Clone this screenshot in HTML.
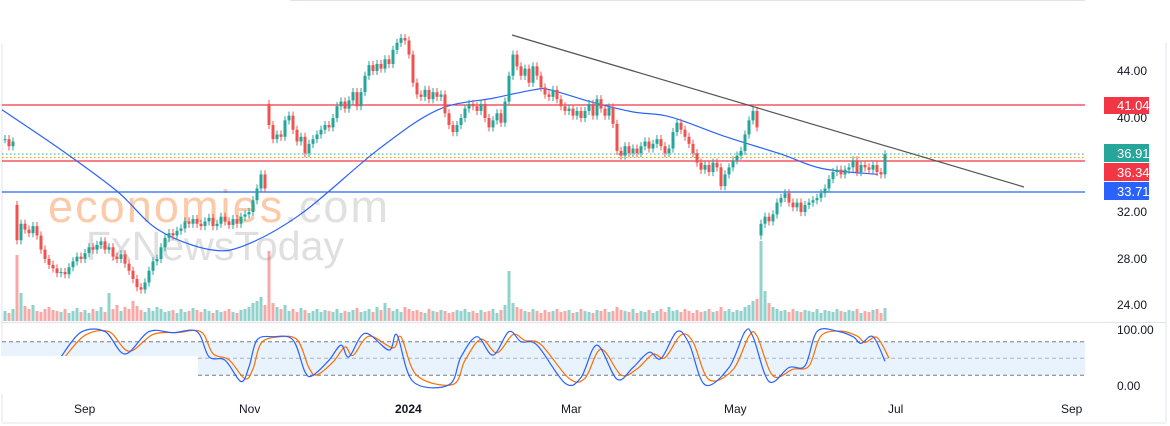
<!DOCTYPE html>
<html><head><meta charset="utf-8">
<style>
html,body{margin:0;padding:0;background:#fff;}
svg{display:block;font-family:"Liberation Sans",sans-serif;}
</style></head>
<body>
<svg id="chart" width="1170" height="426" viewBox="0 0 1170 426" xmlns="http://www.w3.org/2000/svg">
  <line x1="290" y1="0.5" x2="1085" y2="0.5" stroke="#e0e3eb"/>
  <line x1="2" y1="44" x2="2" y2="422" stroke="#e0e3eb"/>
  <line x1="1166" y1="43" x2="1166" y2="422" stroke="#e0e3eb"/>
  <line x1="2" y1="322.5" x2="1166" y2="322.5" stroke="#e0e3eb"/>
  <line x1="2" y1="423" x2="1166" y2="423" stroke="#e0e3eb"/>
  <g>
    <text x="48" y="222" font-size="45" fill="#fbb98c" opacity="0.75" textLength="340">economies<tspan fill="#d6d6d6">.com</tspan></text>
    <text x="86" y="260" font-size="41" fill="#d8d8d8" opacity="0.8" textLength="258">FxNewsToday</text>
  </g>
  <g id="stoch-bg">
    <rect x="2" y="341.7" width="1083" height="33.6" fill="#e8f3fd"/>
    <line x1="2" y1="341.7" x2="1085" y2="341.7" stroke="#787b86" stroke-dasharray="4,3"/>
    <line x1="2" y1="358.3" x2="1085" y2="358.3" stroke="#9598a1" stroke-dasharray="4,3" opacity="0.7"/>
    <line x1="2" y1="375.3" x2="1085" y2="375.3" stroke="#787b86" stroke-dasharray="4,3"/>
  </g>
  <g id="volume"></g>
  <g id="levels">
    <line x1="2" y1="105" x2="1085" y2="105" stroke="#f23645" stroke-width="1.2"/>
    <line x1="2" y1="154" x2="1085" y2="154" stroke="#26a69a" stroke-dasharray="1.5,2.5"/>
    <line x1="2" y1="157.5" x2="1085" y2="157.5" stroke="#ff9800" stroke-dasharray="1.5,2.5"/>
    <line x1="2" y1="161" x2="1085" y2="161" stroke="#f23645" stroke-width="1.2"/>
    <line x1="2" y1="192" x2="1085" y2="192" stroke="#2962ff" stroke-width="1.2"/>
  </g>
  <path id="ma" fill="none" stroke="#2962ff" stroke-width="1.2"/>
  <g id="candles"></g>
  <line x1="512" y1="35" x2="1024" y2="187" stroke="#555" stroke-width="1.2"/>
  <path id="stochD" fill="none" stroke="#ff6d00" stroke-width="1.2"/>
  <path id="stochK" fill="none" stroke="#2962ff" stroke-width="1.2"/>
  <rect x="0" y="356" width="198" height="38" fill="#fff"/>
  <g font-size="12" fill="#131722">
    <text x="1117" y="75">44.00</text>
    <text x="1117" y="122">40.00</text>
    <text x="1117" y="216">32.00</text>
    <text x="1117" y="263">28.00</text>
    <text x="1117" y="309">24.00</text>
    <text x="1117" y="334">100.00</text>
    <text x="1117" y="390">0.00</text>
  </g>
  <g font-size="13" fill="#fff">
    <rect x="1104" y="97" width="45" height="17" fill="#f23645"/><text x="1117" y="110">41.04</text>
    <rect x="1104" y="144" width="45" height="18" fill="#26a69a"/><text x="1117" y="158">36.91</text>
    <rect x="1104" y="163" width="45" height="18" fill="#f23645"/><text x="1117" y="177">36.34</text>
    <rect x="1104" y="182" width="45" height="18" fill="#2962ff"/><text x="1117" y="196">33.71</text>
  </g>
  <g font-size="12" fill="#131722">
    <text x="74" y="413">Sep</text>
    <text x="239" y="413">Nov</text>
    <text x="395" y="413" font-weight="bold">2024</text>
    <text x="561" y="413">Mar</text>
    <text x="724" y="413">May</text>
    <text x="888" y="413">Jul</text>
    <text x="1061" y="413">Sep</text>
  </g>
</svg>
<script>
const closes = [38.2,37.6,38.0,29.6,31.0,30.5,30.2,30.8,30.0,28.8,28.0,27.5,27.2,26.8,26.9,26.7,27.3,27.8,28.2,28.0,28.5,
29.0,28.8,29.2,29.5,28.8,29.0,28.2,28.0,28.4,27.6,27.0,26.3,25.6,25.4,26.0,27.0,27.8,28.0,29.0,29.8,30.2,30.0,30.4,30.6,
31.2,31.0,31.4,31.0,30.8,31.2,31.5,30.8,31.0,31.6,31.2,30.9,31.4,31.0,31.6,31.8,32.0,33.0,34.0,35.2,34.0,39.4,
38.2,38.6,38.4,39.8,40.2,39.0,38.0,38.4,37.0,37.8,38.2,38.6,39.0,39.4,39.2,40.0,41.0,41.4,40.8,41.5,42.2,41.0,
42.2,43.6,44.5,44.0,44.6,44.2,45.0,44.6,45.8,46.4,46.8,46.6,45.4,43.0,42.0,41.8,42.4,41.6,42.2,41.8,42.0,40.4,39.4,
38.8,39.4,40.0,40.8,41.2,41.0,40.6,41.2,40.0,39.2,39.8,40.4,39.6,41.4,43.6,45.4,44.4,43.6,44.2,43.0,44.4,43.6,
42.6,42.0,41.8,42.4,41.6,41.0,40.6,40.8,40.2,40.6,40.0,40.6,41.2,40.2,41.6,40.8,40.2,40.9,39.5,
37.2,36.8,37.6,37.0,37.4,37.0,37.6,38.0,37.4,37.8,38.2,37.6,37.0,37.4,38.8,39.6,39.0,38.4,37.8,
37.0,36.2,35.6,36.0,35.4,36.2,35.8,34.2,35.2,35.8,36.4,36.8,37.2,38.6,39.8,40.6,39.2,31.0,
31.6,31.2,31.8,32.8,33.2,33.6,32.8,32.4,32.8,32.0,32.6,32.8,33.0,33.2,33.6,34.0,34.8,35.4,35.6,35.2,35.6,
35.8,36.4,35.4,36.0,35.8,35.6,36.0,35.4,35.2,36.91];
const gapOpenIndex = [3, 66, 189];
const gapOpenValue = [32.6, 41.2, 30.0];
const volumes = [10,8,12,66,28,15,12,16,10,9, 12,14,11,10,9,12,8,10,13,9, 11,8,12,10,14,9,28,12,16,10,
14,12,20,15,11,9,13,10,14,12, 9,10,11,8,12,9,10,13,11,9, 12,10,8,11,9,10,12,9,8,11,
12,14,18,20,24,16,70,18,14,12, 16,10,12,9,13,11,8,10,12,9, 11,10,9,12,8,10,9,11,13,9,
10,12,9,14,11,18,13,10,12,9, 14,12,10,11,9,8,12,10,9,11, 10,8,9,11,10,12,9,10,8,11,
9,10,12,8,11,16,50,18,14,12, 10,9,12,10,8,11,9,10,12,9, 10,11,8,9,12,10,9,8,11,10,
12,9,10,14,11,10,9,12,8,10, 9,11,8,10,12,9,14,10,11,9, 12,10,8,11,9,10,12,9,10,14,
10,12,9,11,10,14,16,20,22,80, 30,18,14,12,10,11,9,12,10,9, 11,10,9,12,8,11,10,9,12,10,
9,11,10,12,8,10,9,11,12,8, 13];
const maIndex = [0,16,29,39,52,61,75,94,109,123,133,137,148,158,167,181,195,205,219];
const maValues = [40.7,37.0,33.7,30.5,28.8,29.2,31.9,37.3,40.7,41.7,42.4,42.4,41.3,40.5,40.1,38.4,36.9,35.7,35.2];
// stochastic %K (candle index, value)
const stochIndex = [14,19,25,30,36,42,48,51,55,59,61,63,67,72,75,77,81,84,86,90,96,98,102,111,114,118,122,126,129,133,140,144,148,153,157,161,164,168,171,175,181,185,187,191,196,200,203,208,212,214,217,220];
const stochK = [53,97,98,58,98,96,98,53,47,9,35,83,89,83,26,20,47,74,53,95,65,92,9,3,53,89,56,98,80,74,6,16,74,13,34,61,50,98,77,3,34,98,89,9,34,37,98,99,89,77,89,45];

const NS = "http://www.w3.org/2000/svg";
const xOf = i => 5 + i * 4;
const yP = p => 71 + (44 - p) * 11.75;
const yS = v => 386.5 - v * 0.56;
const GREEN = "#26a69a", RED = "#ef5350";

const opens = closes.map((c, i) => i === 0 ? c : closes[i - 1]);
gapOpenIndex.forEach((gi, k) => { opens[gi] = gapOpenValue[k]; });
const highs = closes.map((c, i) => Math.max(c, opens[i]) + 0.35);
const lows = closes.map((c, i) => Math.min(c, opens[i]) - 0.35);

const cg = document.getElementById('candles');
const vg = document.getElementById('volume');
closes.forEach((c, i) => {
  const o = opens[i], up = c >= o, col = up ? GREEN : RED, x = xOf(i);
  const w = document.createElementNS(NS, 'line');
  
  
  w.setAttribute('x1', x); w.setAttribute('x2', x);
  w.setAttribute('y1', yP(highs[i])); w.setAttribute('y2', yP(lows[i]));
  w.setAttribute('stroke', col);
  cg.appendChild(w);
  const r = document.createElementNS(NS, 'rect');
  
  
  const top = yP(Math.max(o, c)), bot = yP(Math.min(o, c));
  r.setAttribute('x', x - 1.5); r.setAttribute('width', 3);
  r.setAttribute('y', top); r.setAttribute('height', Math.max(1, bot - top));
  r.setAttribute('fill', col);
  cg.appendChild(r);
  const v = document.createElementNS(NS, 'rect');
  
  
  v.setAttribute('x', x - 1.5); v.setAttribute('width', 3);
  v.setAttribute('y', 321 - volumes[i]); v.setAttribute('height', volumes[i]);
  v.setAttribute('fill', col); v.setAttribute('opacity', '0.5');
  vg.appendChild(v);
});

function smooth(pts) {
  let d = `M${pts[0][0]},${pts[0][1]}`;
  for (let k = 0; k < pts.length - 1; k++) {
    const p0 = pts[k - 1] || pts[k], p1 = pts[k], p2 = pts[k + 1], p3 = pts[k + 2] || p2;
    const c1 = [p1[0] + (p2[0] - p0[0]) / 6, p1[1] + (p2[1] - p0[1]) / 6];
    const c2 = [p2[0] - (p3[0] - p1[0]) / 6, p2[1] - (p3[1] - p1[1]) / 6];
    d += ` C${c1[0].toFixed(1)},${c1[1].toFixed(1)} ${c2[0].toFixed(1)},${c2[1].toFixed(1)} ${p2[0].toFixed(1)},${p2[1].toFixed(1)}`;
  }
  return d;
}
document.getElementById('ma').setAttribute('d', smooth(maIndex.map((ix, k) => [xOf(ix) - 3, yP(maValues[k])])));

const kPts = stochIndex.map((ix, k) => [xOf(ix), yS(Math.min(99, stochK[k]))]);
document.getElementById('stochK').setAttribute('d', smooth(kPts));
// %D: lagging smoothed version of %K
const dVals = stochK.map((v, k) => (v + (k ? stochK[k - 1] : v) * 0.6) / 1.6);
const dPts = stochIndex.map((ix, k) => [xOf(ix) + 4, yS(Math.min(99, (stochK[k] * 2 + dVals[k]) / 3))]);
document.getElementById('stochD').setAttribute('d', smooth(dPts));
</script>
</body></html>
